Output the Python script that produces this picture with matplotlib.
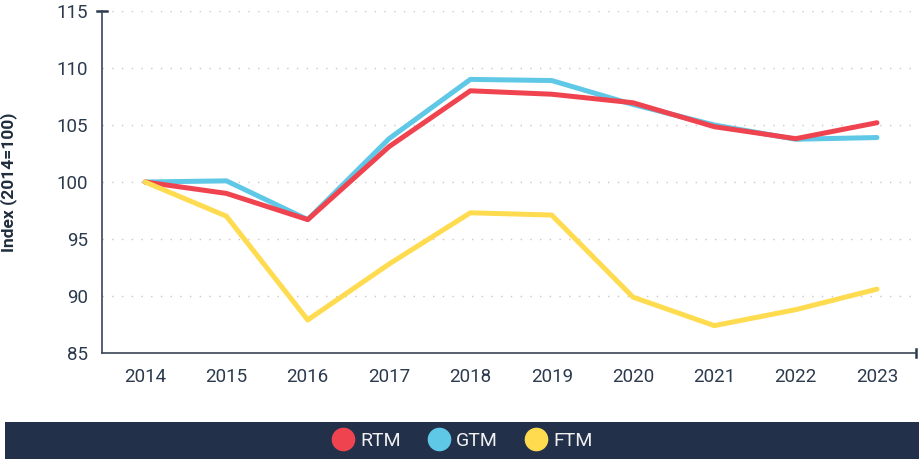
import matplotlib
matplotlib.use("Agg")
import matplotlib.pyplot as plt
from matplotlib.patches import Rectangle
from matplotlib.lines import Line2D

plt.rcParams['font.family'] = ['Roboto', 'DejaVu Sans']

years = [2014, 2015, 2016, 2017, 2018, 2019, 2020, 2021, 2022, 2023]
rtm = [100.0, 99.0, 96.7, 103.1, 108.0, 107.7, 106.95, 104.85, 103.8, 105.2]
gtm = [100.0, 100.1, 96.7, 103.8, 109.0, 108.9, 106.8, 105.0, 103.75, 103.9]
ftm = [100.0, 97.0, 87.9, 92.8, 97.3, 97.1, 89.9, 87.4, 88.8, 90.6]
series_names = ["RTM", "GTM", "FTM"]
colors = ["#ef4450", "#5ec8e6", "#ffdb4f"]
yticks = [85, 90, 95, 100, 105, 110, 115]

text_color = "#2c3a4d"
fig = plt.figure(figsize=(9.2, 4.59), dpi=100)
ax = fig.add_axes([102/920, (459-353)/459, (916-102)/920, (353-11)/459])

order = [1, 0, 2]
data = [rtm, gtm, ftm]
for i in order:
    ax.plot(years, data[i], color=colors[i], lw=3.6, solid_capstyle='round',
            solid_joinstyle='round', zorder=3)

ax.set_xlim(2013.47, 2023.48)
ax.set_ylim(85, 115)
ax.set_yticks(yticks)
ax.set_xticks(years)
ax.tick_params(axis='both', length=0, labelsize=13.5, colors=text_color, pad=10)
ax.tick_params(axis='x', pad=11)
for t in yticks[1:]:
    ax.axhline(t, color="#c8c8c8", lw=1.0, ls=(0, (1, 6)), zorder=1)

for s in ['top', 'right']:
    ax.spines[s].set_visible(False)
for s in ['left', 'bottom']:
    ax.spines[s].set_color("#3a4656")
    ax.spines[s].set_linewidth(1.2)

ax.plot([-0.006, 0.006], [1, 1], transform=ax.transAxes, color="#2c3a4d", lw=1.8, clip_on=False)
ax.plot([1, 1], [-0.012, 0.012], transform=ax.transAxes, color="#2c3a4d", lw=1.8, clip_on=False)

ax.set_ylabel("Index (2014=100)", fontsize=12.5, fontweight='bold', color="#1f2d3d")
ax.yaxis.set_label_coords(-0.104, 0.5)

fig.patches.append(Rectangle((5/920, 0), (919-5)/920, 37/459, transform=fig.transFigure,
                             facecolor="#22304a", edgecolor='none', zorder=0))
handles = [Line2D([], [], marker='o', ls='none', markersize=16, markerfacecolor=c,
                  markeredgecolor=c) for c in colors]
leg = fig.legend(handles, series_names, loc='center', bbox_to_anchor=(0.5, 18.5/459),
                 ncol=3, frameon=False, fontsize=14, labelcolor='#f0f0f0',
                 handletextpad=0.1, columnspacing=1.15, handlelength=1.6)

fig.savefig("out.png", dpi=100)
